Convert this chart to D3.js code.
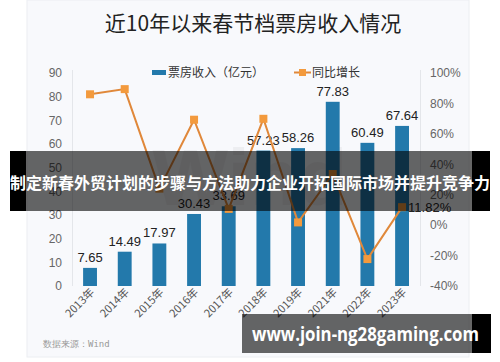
<!DOCTYPE html>
<html>
<head>
<meta charset="utf-8">
<script src="https://cdn.jsdelivr.net/npm/d3@7"></script>
<style>
  html, body { margin: 0; padding: 0; background: #fff; }
  svg { display: block; font-family: "Noto Sans CJK SC", "Noto Sans", sans-serif; }
</style>
</head>
<body>
<div id="chart"></div>
<script>
const years = ['2013年', '2014年', '2015年', '2016年', '2017年', '2018年', '2019年', '2021年', '2022年', '2023年'];
const boxOffice = [7.65, 14.49, 17.97, 30.43, 33.69, 57.23, 58.26, 77.83, 60.49, 67.64];
const growth = [86, 89.4, 24, 69.3, 10.7, 69.9, 1.8, 33.6, -22.3, 11.82];
const leftTicks = [0, 10, 20, 30, 40, 50, 60, 70, 80, 90];
const rightTicks = [-40, -20, 0, 20, 40, 60, 80, 100];

const W = 500, H = 362;
const svg = d3.select('#chart').append('svg')
  .attr('width', W)
  .attr('height', H);

// panel of the original picture
svg.append('rect')
  .attr('x', 27).attr('y', 0)
  .attr('width', 442).attr('height', 357)
  .attr('fill', '#f8f9fc')
  .attr('stroke', '#eceef2');

svg.append('text')
  .attr('x', 253).attr('y', 31)
  .attr('text-anchor', 'middle')
  .style('font-size', '21px')
  .style('fill', '#222')
  .text('近10年以来春节档票房收入情况');

// faint watermark
svg.append('text')
  .attr('x', 250).attr('y', 205)
  .attr('text-anchor', 'middle')
  .style('font-family', 'Liberation Sans, Arial, sans-serif')
  .style('font-size', '80px')
  .style('font-weight', 'bold')
  .style('fill', '#000')
  .style('opacity', 0.04)
  .text('Wind');

const x = d3.scaleBand()
  .domain(years)
  .range([72.7, 419.4])
  .paddingInner(0.6)
  .paddingOuter(0.3);

const yL = d3.scaleLinear().domain([0, 90]).range([286, 73]);
const yR = d3.scaleLinear().domain([-40, 100]).range([286, 73]);

// axis lines
svg.append('line')
  .attr('x1', 72.5).attr('x2', 72.5).attr('y1', 70).attr('y2', 286)
  .attr('stroke', '#e4e6ea');
svg.append('line')
  .attr('x1', 420.5).attr('x2', 420.5).attr('y1', 70).attr('y2', 286)
  .attr('stroke', '#e4e6ea');

// left ticks
const leftAxis = svg.append('g')
  .attr('transform', 'translate(62,0)')
  .call(d3.axisLeft(yL).tickValues(leftTicks).tickSize(0).tickPadding(0));
leftAxis.select('.domain').remove();
leftAxis.selectAll('text')
  .style('font-family', 'Liberation Sans, Arial, sans-serif')
  .style('font-size', '12px')
  .style('fill', '#666');

// right ticks
const rightAxis = svg.append('g')
  .attr('transform', 'translate(430,0)')
  .call(d3.axisRight(yR).tickValues(rightTicks).tickSize(0).tickPadding(0).tickFormat(d => d + '%'));
rightAxis.select('.domain').remove();
rightAxis.selectAll('text')
  .style('font-family', 'Liberation Sans, Arial, sans-serif')
  .style('font-size', '12px')
  .style('fill', '#666');

// x labels
svg.selectAll('.xlab')
  .data(years)
  .enter().append('text')
  .attr('class', 'xlab')
  .attr('transform', d => `translate(${x(d) + x.bandwidth() / 2 + 5},${293}) rotate(-45)`)
  .attr('text-anchor', 'end')
  .style('font-size', '11px')
  .style('fill', '#555')
  .text(d => d);

// bars
svg.selectAll('.bar')
  .data(boxOffice)
  .enter().append('rect')
  .attr('class', 'bar')
  .attr('x', (d, i) => x(years[i]))
  .attr('width', x.bandwidth())
  .attr('y', d => yL(d))
  .attr('height', d => yL(0) - yL(d))
  .attr('fill', '#2379ab');

svg.selectAll('.blab')
  .data(boxOffice)
  .enter().append('text')
  .attr('class', 'blab')
  .attr('x', (d, i) => x(years[i]) + x.bandwidth() / 2)
  .attr('y', d => yL(d) - 6)
  .attr('text-anchor', 'middle')
  .style('font-family', 'Liberation Sans, Arial, sans-serif')
  .style('font-size', '13px')
  .style('fill', '#222')
  .text(d => d.toFixed(2));

// growth line
const line = d3.line()
  .x((d, i) => x(years[i]) + x.bandwidth() / 2)
  .y(d => yR(d));

svg.append('path')
  .datum(growth)
  .attr('d', line)
  .attr('fill', 'none')
  .attr('stroke', '#e0883a')
  .attr('stroke-width', 2);

svg.selectAll('.pt')
  .data(growth)
  .enter().append('rect')
  .attr('class', 'pt')
  .attr('x', (d, i) => x(years[i]) + x.bandwidth() / 2 - 4)
  .attr('y', d => yR(d) - 4)
  .attr('width', 8).attr('height', 8)
  .attr('fill', '#f39a3d');

const last = growth.length - 1;
svg.append('text')
  .attr('x', x(years[last]) + x.bandwidth() / 2 + 6)
  .attr('y', yR(growth[last]) + 5)
  .style('font-family', 'Liberation Sans, Arial, sans-serif')
  .style('font-size', '13px')
  .style('fill', '#222')
  .text(growth[last] + '%');

// legend
svg.append('rect')
  .attr('x', 152).attr('y', 70)
  .attr('width', 14).attr('height', 5)
  .attr('fill', '#2379ab');
svg.append('text')
  .attr('x', 168).attr('y', 77)
  .style('font-size', '12px')
  .style('fill', '#333')
  .text('票房收入（亿元）');
svg.append('line')
  .attr('x1', 294).attr('x2', 311).attr('y1', 72.5).attr('y2', 72.5)
  .attr('stroke', '#e0883a').attr('stroke-width', 2);
svg.append('rect')
  .attr('x', 299).attr('y', 69)
  .attr('width', 7).attr('height', 7)
  .attr('fill', '#f39a3d');
svg.append('text')
  .attr('x', 312).attr('y', 77)
  .style('font-size', '12px')
  .style('fill', '#333')
  .text('同比增长');

// source
svg.append('text')
  .attr('x', 43).attr('y', 347)
  .style('font-family', 'DejaVu Sans Mono, monospace')
  .style('font-size', '9px')
  .style('fill', '#999')
  .text('数据来源：Wind');

// overlay banner
svg.append('rect')
  .attr('x', 10).attr('y', 151).attr('width', 16).attr('height', 60)
  .attr('fill', '#000');
svg.append('rect')
  .attr('x', 472).attr('y', 151).attr('width', 18).attr('height', 60)
  .attr('fill', '#000');
svg.append('rect')
  .attr('x', 26).attr('y', 151).attr('width', 446).attr('height', 60)
  .attr('fill', '#000').attr('opacity', 0.6);
svg.append('text')
  .attr('x', 250).attr('y', 189)
  .attr('text-anchor', 'middle')
  .attr('textLength', 480)
  .attr('lengthAdjust', 'spacingAndGlyphs')
  .style('font-size', '15.5px')
  .style('font-weight', 'bold')
  .style('fill', '#fff')
  .text('制定新春外贸计划的步骤与方法助力企业开拓国际市场并提升竞争力');

// bottom watermark banner
svg.append('rect')
  .attr('x', 472).attr('y', 314).attr('width', 19).attr('height', 39)
  .attr('fill', '#000');
svg.append('rect')
  .attr('x', 242).attr('y', 314).attr('width', 230).attr('height', 39)
  .attr('fill', '#000').attr('opacity', 0.6);
svg.append('text')
  .attr('x', 252).attr('y', 341)
  .attr('textLength', 227)
  .attr('lengthAdjust', 'spacingAndGlyphs')
  .style('font-family', 'Open Sans, sans-serif')
  .style('font-size', '19px')
  .style('font-weight', 'bold')
  .style('fill', '#fff')
  .text('www.join-ng28gaming.com');
</script>
</body>
</html>
